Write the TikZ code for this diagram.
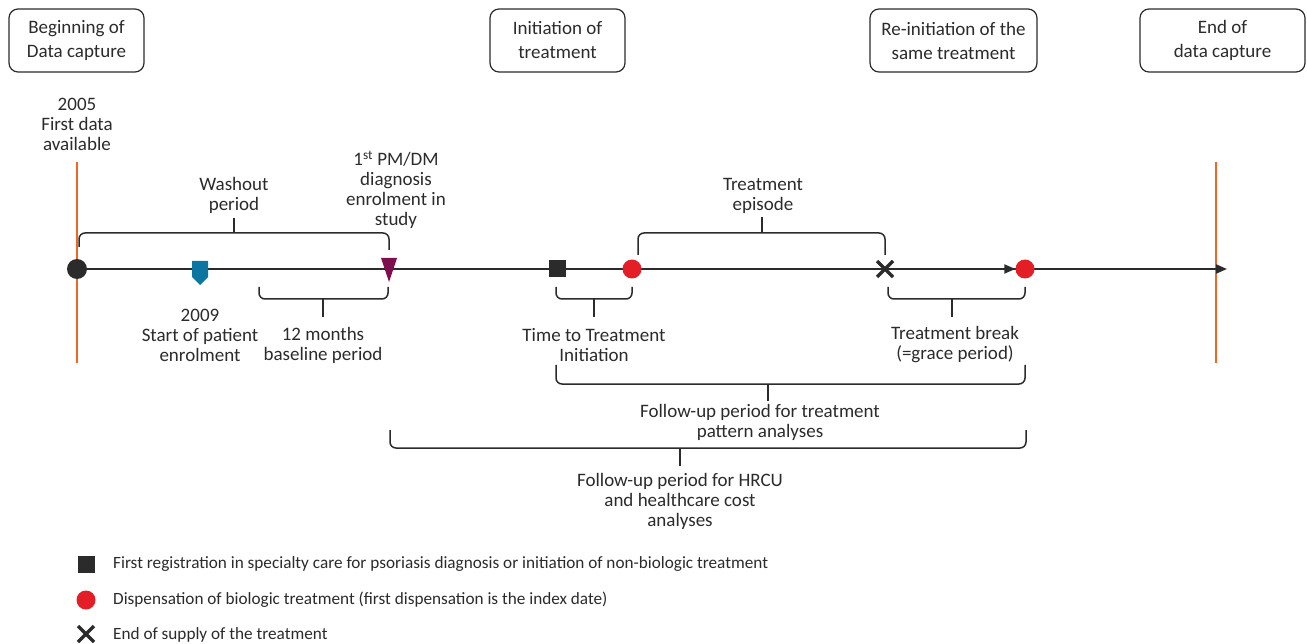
\documentclass[tikz,border=0pt]{standalone}
\usepackage{fontspec}
\setmainfont{Carlito}
\usetikzlibrary{arrows.meta}
\definecolor{txt}{HTML}{2B2B2B}
\definecolor{orng}{HTML}{F26522}
\definecolor{tealm}{HTML}{0B77A1}
\definecolor{purp}{HTML}{7E0F4E}
\definecolor{redm}{HTML}{E31E26}
\tikzset{
  lbl/.style={font=\fontsize{19}{20}\selectfont, align=center, inner sep=0pt, text=txt},
  legtxt/.style={font=\fontsize{17.2}{18}\selectfont, anchor=west, inner sep=0pt, text=txt},
  box/.style={draw=txt, rounded corners=9pt, line width=1.2pt, minimum height=63pt,
    font=\fontsize{19}{24}\selectfont, align=center, text=txt, inner sep=0pt},
  brace/.style={draw=txt, line width=1.5pt, rounded corners=6pt},
  tick/.style={draw=txt, line width=1.5pt},
  axis/.style={draw=txt, line width=2pt},
  orangeline/.style={draw=orng, line width=2pt},
  dot/.style={circle, fill=redm, minimum size=19pt, inner sep=0pt},
  sq/.style={rectangle, fill=txt, minimum size=17pt, inner sep=0pt},
  xmark/.style={draw=txt, line width=3.4pt},
}
\begin{document}
\begin{tikzpicture}[x=1pt,y=-1pt]
\useasboundingbox (0,0) rectangle (1307,644);
% top boxes
\node[box, minimum width=135pt] (b1) at (76.5,40.5) {Beginning of\\Data capture};
\node[box, minimum width=135pt] (b2) at (557.5,40.5) {Initiation of\\treatment};
\node[box, minimum width=167pt] (b3) at (953.5,40.5) {Re-initiation of the\\same treatment};
\node[box, minimum width=165pt] (b4) at (1222.5,40.5) {End of\\data capture};
% orange lines
\draw[orangeline] (77,162) -- (77,363);
\draw[orangeline] (1216,162) -- (1216,363);
% timeline
\coordinate (tstart) at (77,269);
\coordinate (tend) at (1227,269);
\draw[axis, -{Triangle[length=11pt,width=9pt]}] (tstart) -- (tend);
% markers
\node[circle, fill=txt, minimum size=20pt, inner sep=0pt] (start) at (77,269) {};
\coordinate (enrol) at (200,269);
\fill[tealm] ([shift={(-8,-8)}]enrol) -- ([shift={(8,-8)}]enrol) -- ([shift={(8,8)}]enrol)
  -- ([shift={(0,16)}]enrol) -- ([shift={(-8,8)}]enrol) -- cycle;
\coordinate (diag) at (389,269);
\fill[purp] ([shift={(-8,-11)}]diag) -- ([shift={(8,-11)}]diag) -- ([shift={(0,13)}]diag) -- cycle;
\node[sq] (sq1) at (557,269) {};
\node[dot] (red1) at (632,269) {};
\coordinate (xm) at (885,269);
\draw[xmark] ([shift={(-8,-8)}]xm) -- ([shift={(8,8)}]xm);
\draw[xmark] ([shift={(-8,8)}]xm) -- ([shift={(8,-8)}]xm);
\node[dot] (red2) at (1025,269) {};
\draw[axis, -{Triangle[length=11pt,width=9pt]}] (xm) -- (red2.west);
% labels on timeline
\node[lbl] (l2005) at (77,124) {2005\\First data\\available};
\node[lbl] (l2009) at (200,335) {2009\\Start of patient\\enrolment};
\node[lbl] (lpm) at (396,190) {1\textsuperscript{st} PM/DM\\diagnosis\\enrolment in\\study};
% washout brace
\draw[brace] (79,247) |- (234,233) -| (389,250);
\draw[tick] (234,233) -- (234,218);
\node[lbl] (lwash) at (234,195) {Washout\\period};
% 12 months
\draw[brace] (259,287) |- (323,299) -| (388,287);
\draw[tick] (323,299) -- (323,317);
\node[lbl] (l12) at (323,345) {12 months\\baseline period};
% time to treatment initiation
\draw[brace] (556,287) |- (594,299) -| (632,287);
\draw[tick] (594,299) -- (594,317);
\node[lbl] (ltti) at (594,345) {Time to Treatment\\Initiation};
% treatment episode
\draw[brace] (638,255) |- (762,233) -| (885,255);
\draw[tick] (762,233) -- (762,217);
\node[lbl] (lepi) at (763,196) {Treatment\\episode};
% treatment break
\draw[brace] (888,287) |- (952,299) -| (1025,287);
\draw[tick] (952,299) -- (952,317);
\node[lbl] (lbreak) at (955,345) {Treatment break\\(=grace period)};
% follow-up treatment pattern
\draw[brace] (556,365) |- (768,384) -| (1025,365);
\draw[tick] (768,384) -- (768,401);
\node[lbl] (lfu1) at (760,422) {Follow-up period for treatment\\pattern analyses};
% follow-up HRCU
\draw[brace] (390,430) |- (680,448) -| (1026,430);
\draw[tick] (680,448) -- (680,466);
\node[lbl] (lfu2) at (680,501) {Follow-up period for HRCU\\and healthcare cost\\analyses};
% legend
\node[sq] (lg1) at (86,564) {};
\node[legtxt] (lt1) at (113,564) {First registration in specialty care for psoriasis diagnosis or initiation of non-biologic treatment};
\node[dot] (lg2) at (86,600) {};
\node[legtxt] (lt2) at (113,600) {Dispensation of biologic treatment (first dispensation is the index date)};
\coordinate (lg3) at (86,634);
\draw[xmark] ([shift={(-8,-8)}]lg3) -- ([shift={(8,8)}]lg3);
\draw[xmark] ([shift={(-8,8)}]lg3) -- ([shift={(8,-8)}]lg3);
\node[legtxt] (lt3) at (113,635) {End of supply of the treatment};
\end{tikzpicture}
\end{document}
